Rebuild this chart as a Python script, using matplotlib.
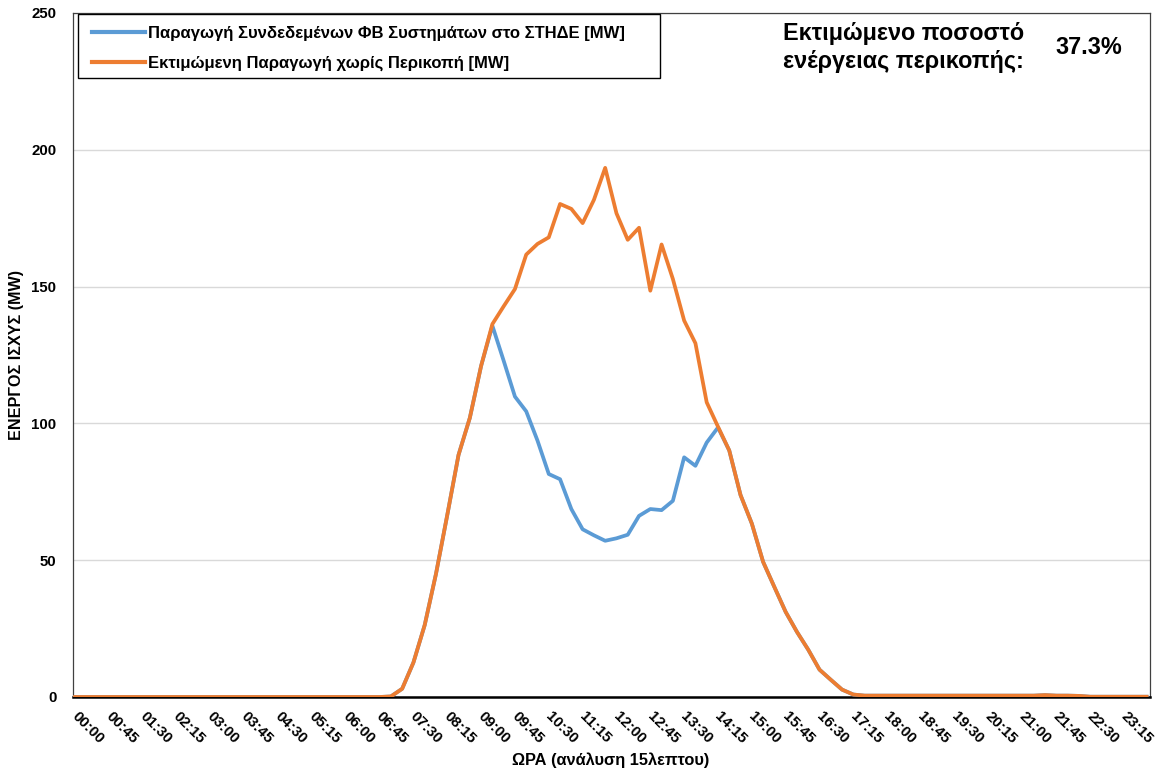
import numpy as np
import matplotlib
matplotlib.use('Agg')
from matplotlib import pyplot as plt
from matplotlib.patches import Rectangle
from matplotlib.transforms import ScaledTranslation

plt.rcParams['font.family'] = ['Liberation Sans', 'DejaVu Sans']
plt.rcParams['font.weight'] = 'bold'

# 96 τιμές, ανάλυση 15 λεπτών
times = ['%02d:%02d' % (h, m) for h in range(24) for m in (0, 15, 30, 45)]

# εκτιμώμενη παραγωγή χωρίς περικοπή [MW]
orange = [0.0] * 28 + [
    0.2, 3.0, 12.6, 26.3, 45.0, 66.5, 88.5, 102.0, 121.0, 136.3,
    142.8, 149.1, 161.7, 165.6, 168.0, 180.2, 178.4, 173.2, 181.7, 193.4,
    176.8, 167.1, 171.5, 148.5, 165.4, 152.8, 137.6, 129.3, 107.7, 98.8,
    90.1, 73.8, 63.4, 49.4, 40.2, 31.1, 23.8, 17.3, 10.0, 6.3,
    2.7, 0.9, 0.5, 0.5, 0.5, 0.5, 0.5, 0.5, 0.5, 0.5,
    0.5, 0.5, 0.5, 0.5, 0.5, 0.5, 0.5, 0.5, 0.7, 0.5,
    0.5, 0.4, 0.1, 0.1, 0.1, 0.1, 0.1, 0.1]

# παραγωγή συνδεδεμένων ΦΒ (με περικοπή) [MW], 09:15 - 14:15
blue_cut = [135.7, 122.9, 109.8, 104.4, 93.7, 81.5, 79.6, 68.7, 61.3, 59.1,
            57.1, 58.0, 59.3, 66.2, 68.7, 68.3, 71.7, 87.6, 84.5, 93.0, 98.5]
blue = orange[:37] + blue_cut + orange[58:]

x = np.arange(len(times))

fig = plt.figure(figsize=(11.58, 7.71), dpi=100)
ax = fig.add_axes([73/1158, 1-697/771, (1150-73)/1158, (697-13)/771])

ax.plot(x, blue, color='#5B9BD5', lw=2.7, solid_joinstyle='round', zorder=3)
ax.plot(x, orange, color='#ED7D31', lw=2.7, solid_joinstyle='round', zorder=4)

ax.set_xlim(-0.18, 95.3)
ax.set_ylim(0, 250)
ax.set_yticks(range(0, 251, 50))
ax.yaxis.grid(True, color='#D9D9D9', lw=1)
ax.set_axisbelow(True)
ax.tick_params(axis='y', length=0, pad=12, labelsize=10.8)
ax.set_xticks(x[::3])
ax.set_xticklabels(times[::3], rotation=-45, ha='left', va='top',
                   rotation_mode='anchor', fontsize=10.8)
ax.tick_params(axis='x', length=0, pad=9)
# λίγο δεξιότερα οι ετικέτες όπως στο excel
shift = ScaledTranslation(4/100, 0, fig.dpi_scale_trans)
for lab in ax.get_xticklabels():
    lab.set_transform(lab.get_transform() + shift)
for s in ['left', 'right', 'top']:
    ax.spines[s].set_color('#404040')
    ax.spines[s].set_linewidth(0.9)
ax.spines['bottom'].set_color('black')
ax.spines['bottom'].set_linewidth(1.8)

# υπόμνημα
fig.patches.append(Rectangle((78/1158, 1-78/771), 582/1158, 64/771,
                             transform=fig.transFigure, fill=True,
                             facecolor='white', edgecolor='black', lw=1, zorder=5))
leg = fig.legend(['Παραγωγή Συνδεδεμένων ΦΒ Συστημάτων στο ΣΤΗΔΕ [MW]',
                  'Εκτιμώμενη Παραγωγή χωρίς Περικοπή [MW]'],
                 loc='upper left', bbox_to_anchor=(92/1158, 1-26/771),
                 frameon=False, borderpad=0, borderaxespad=0,
                 handlelength=3.18, handletextpad=0.18, labelspacing=0.91,
                 prop={'size': 12, 'weight': 'bold'})
leg.set_zorder(6)
for h in leg.get_lines():
    h.set_linewidth(3)

fig.text(783/1158, 1-47.5/771, 'Εκτιμώμενο ποσοστό\nενέργειας περικοπής:',
         fontsize=16.8, fontweight='bold', va='center', ha='left', linespacing=1.28)
fig.text(1055/1158, 1-47/771, '37.3%', fontsize=16.8, fontweight='bold',
         va='center', ha='left')

fig.text(17/1158, 1-355/771, 'ΕΝΕΡΓΟΣ ΙΣΧΥΣ (MW)', rotation=90, fontsize=11.6,
         fontweight='bold', ha='center', va='center')
fig.text(611/1158, 1-760/771, 'ΩΡΑ (ανάλυση 15λεπτου)', fontsize=11.8,
         fontweight='bold', ha='center', va='center')

fig.savefig('out.png', dpi=100)
